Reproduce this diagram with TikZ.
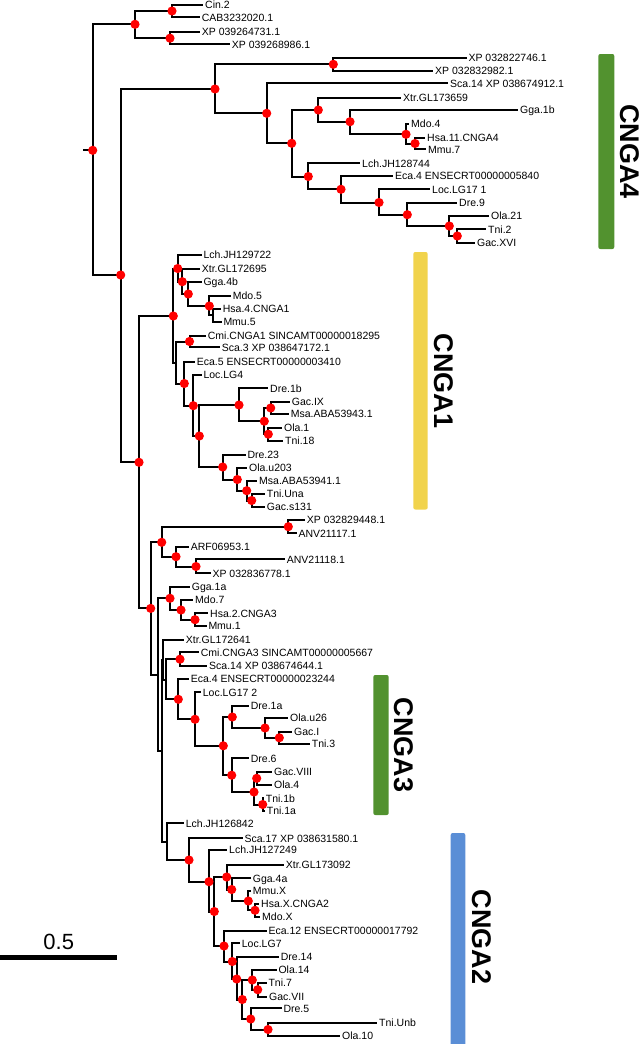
\documentclass[tikz,border=0pt]{standalone}
\usepackage{fontspec}
\setmainfont{Liberation Sans}
\definecolor{cgreen}{HTML}{52922F}
\definecolor{cyellow}{HTML}{F1D34C}
\definecolor{cblue}{HTML}{5A8ED6}
\newcommand\tlf[4]{\node[leaf] (#1) at (#2-1.8,#3) {#4};}
\begin{document}
\begin{tikzpicture}[x=1pt,y=-1pt,
  edge/.style={line width=2pt, line join=miter},
  leaf/.style={anchor=west, inner xsep=1.8pt, inner ysep=0pt, text height=7.5pt, text depth=0pt, font=\fontsize{10.5}{12}\selectfont},
  clade/.style={font=\fontsize{27}{27}\selectfont\bfseries, rotate=-90, inner sep=0pt},
  bar/.style={rounded corners=2pt}]
\useasboundingbox (0,0) rectangle (641,1044);
% internal nodes
\coordinate (rs) at (83.3,150.3);
\coordinate (r0) at (92.7,150.3);
\coordinate (a) at (135,24.3);
\coordinate (a1) at (172,11);
\coordinate (a2) at (170,38.2);
\coordinate (b) at (120.7,275);
\coordinate (c4) at (215,89);
\coordinate (c4a) at (333.3,64.3);
\coordinate (c4b) at (266.7,113.3);
\coordinate (c4c) at (291.7,143.3);
\coordinate (c4d) at (318.3,110);
\coordinate (c4e) at (350,121.7);
\coordinate (c4f) at (406,134.3);
\coordinate (c4g) at (415,143.5);
\coordinate (c4h) at (308.3,176.5);
\coordinate (c4i) at (341,189.3);
\coordinate (c4j) at (379,202.5);
\coordinate (c4k) at (407.3,214.7);
\coordinate (c4l) at (449.3,226);
\coordinate (c4m) at (457.3,236);
\coordinate (d) at (139,462.3);
\coordinate (c1) at (173.3,316);
\coordinate (c1b) at (177.7,268.5);
\coordinate (c1c) at (182.3,281.7);
\coordinate (c1d) at (188.3,294);
\coordinate (c1e) at (209.3,306);
\coordinate (c1f) at (213,315.3);
\coordinate (c1g) at (176.3,363);
\coordinate (c1h) at (189.5,341.5);
\coordinate (c1i) at (184.3,383.5);
\coordinate (c1j) at (193.3,405.7);
\coordinate (c1k) at (199.3,436);
\coordinate (c1l) at (239,405);
\coordinate (c1m) at (264.3,421.2);
\coordinate (c1n) at (270.7,408);
\coordinate (c1o) at (268.3,434.2);
\coordinate (c1p) at (222.7,467);
\coordinate (c1q) at (237.3,479.5);
\coordinate (c1r) at (246.7,490.7);
\coordinate (c1s) at (251.7,500.5);
\coordinate (z) at (150.7,608.4);
\coordinate (u) at (161.7,542.3);
\coordinate (v) at (288.3,526.7);
\coordinate (w) at (176,556.7);
\coordinate (x) at (196,566.5);
\coordinate (z2) at (158.3,674.5);
\coordinate (aa) at (170,598.3);
\coordinate (ab) at (181,610);
\coordinate (ac) at (195,619.7);
\coordinate (y1) at (161.7,750.8);
\coordinate (y2) at (163.3,659.8);
\coordinate (y3) at (165.7,679.5);
\coordinate (ad) at (180,659.2);
\coordinate (ae) at (178.3,699.3);
\coordinate (af) at (195,719.3);
\coordinate (ag) at (223.3,745.8);
\coordinate (ah) at (232.3,717);
\coordinate (aj) at (265,728);
\coordinate (ak) at (279.3,737.8);
\coordinate (ai) at (231.7,775.2);
\coordinate (al) at (254,792);
\coordinate (am) at (256.7,778.3);
\coordinate (an) at (262.7,804.5);
\coordinate (yl) at (166.7,841.7);
\coordinate (ba) at (189,860);
\coordinate (bb) at (209,881.7);
\coordinate (bc) at (214.3,911.5);
\coordinate (bd) at (226.7,877);
\coordinate (bg) at (231.7,889.5);
\coordinate (bh) at (248.3,901);
\coordinate (bi) at (255,910.3);
\coordinate (be1) at (224,946);
\coordinate (be2) at (232.3,961.5);
\coordinate (be3) at (236.7,979);
\coordinate (be4) at (242.3,999.5);
\coordinate (bo) at (252.3,980);
\coordinate (bt) at (257.7,989.7);
\coordinate (be5) at (250.7,1019);
\coordinate (be6) at (268,1029.5);
% leaves
\tlf{cin}{205}{4.7}{Cin.2}
\tlf{cab}{201.7}{17.3}{CAB3232020.1}
\tlf{xp1}{201.7}{32}{XP 039264731.1}
\tlf{xp2}{231.7}{44.3}{XP 039268986.1}
\tlf{xp3}{468.3}{57.7}{XP 032822746.1}
\tlf{xp4}{435}{71}{XP 032832982.1}
\tlf{scaA}{450}{83.3}{Sca.14 XP 038674912.1}
\tlf{xtrA}{403}{97.7}{Xtr.GL173659}
\tlf{ggaA}{520}{110}{Gga.1b}
\tlf{mdoA}{411}{124}{Mdo.4}
\tlf{hsaA}{427}{137.7}{Hsa.11.CNGA4}
\tlf{mmuA}{428}{149.3}{Mmu.7}
\tlf{lchA}{362}{163.3}{Lch.JH128744}
\tlf{ecaA}{395}{176}{Eca.4 ENSECRT00000005840}
\tlf{locA}{432}{189.3}{Loc.LG17 1}
\tlf{dreA}{459}{202.7}{Dre.9}
\tlf{olaA}{491}{216}{Ola.21}
\tlf{tniA}{488}{229.3}{Tni.2}
\tlf{gacA}{477}{242.5}{Gac.XVI}
\tlf{lchB}{203.3}{255}{Lch.JH129722}
\tlf{xtrB}{201.7}{269}{Xtr.GL172695}
\tlf{ggaB}{203.3}{281.7}{Gga.4b}
\tlf{mdoB}{232.7}{295.7}{Mdo.5}
\tlf{hsaB}{222.7}{309}{Hsa.4.CNGA1}
\tlf{mmuB}{223.3}{321.7}{Mmu.5}
\tlf{cmiB}{207.7}{335.7}{Cmi.CNGA1 SINCAMT00000018295}
\tlf{scaB}{221.7}{347.3}{Sca.3 XP 038647172.1}
\tlf{ecaB}{196.7}{362}{Eca.5 ENSECRT00000003410}
\tlf{locB}{203.3}{375}{Loc.LG4}
\tlf{dreB}{270}{388.3}{Dre.1b}
\tlf{gacB}{291.7}{401.7}{Gac.IX}
\tlf{msaB}{290.7}{414}{Msa.ABA53943.1}
\tlf{olaB}{284}{427.7}{Ola.1}
\tlf{tniB}{285}{440.7}{Tni.18}
\tlf{dreC}{247.3}{455}{Dre.23}
\tlf{olaC}{249}{467.7}{Ola.u203}
\tlf{msaC}{259}{481}{Msa.ABA53941.1}
\tlf{tniC}{266.7}{494}{Tni.Una}
\tlf{gacC}{266.7}{506.7}{Gac.s131}
\tlf{xp5}{306.7}{520}{XP 032829448.1}
\tlf{anv1}{298.3}{533.3}{ANV21117.1}
\tlf{arf}{190.7}{546.7}{ARF06953.1}
\tlf{anv2}{286.7}{559.3}{ANV21118.1}
\tlf{xp6}{212.3}{573.3}{XP 032836778.1}
\tlf{ggaD}{191.7}{586.7}{Gga.1a}
\tlf{mdoD}{195}{600}{Mdo.7}
\tlf{hsaD}{210}{613.3}{Hsa.2.CNGA3}
\tlf{mmuD}{208.3}{626}{Mmu.1}
\tlf{xtrD}{185.7}{640}{Xtr.GL172641}
\tlf{cmiD}{200.7}{652.3}{Cmi.CNGA3 SINCAMT00000005667}
\tlf{scaD}{209}{666}{Sca.14 XP 038674644.1}
\tlf{ecaD}{190.7}{679}{Eca.4 ENSECRT00000023244}
\tlf{locD}{202.7}{692.3}{Loc.LG17 2}
\tlf{dreD}{250.7}{706}{Dre.1a}
\tlf{olaD}{290}{717.7}{Ola.u26}
\tlf{gacD}{294}{731.7}{Gac.I}
\tlf{tniD}{311.7}{744}{Tni.3}
\tlf{dreE}{250.7}{758.3}{Dre.6}
\tlf{gacE}{274}{771.7}{Gac.VIII}
\tlf{olaE}{274}{785}{Ola.4}
\tlf{tniE}{265.7}{798.3}{Tni.1b}
\tlf{tniF}{266.7}{810.7}{Tni.1a}
\tlf{lchG}{185.7}{823.3}{Lch.JH126842}
\tlf{scaG}{244.3}{838.3}{Sca.17 XP 038631580.1}
\tlf{lchH}{229}{850}{Lch.JH127249}
\tlf{xtrG}{285.7}{865}{Xtr.GL173092}
\tlf{ggaG}{252.7}{878.3}{Gga.4a}
\tlf{mmuG}{252.7}{890.7}{Mmu.X}
\tlf{hsaG}{261}{903.5}{Hsa.X.CNGA2}
\tlf{mdoG}{262}{916.7}{Mdo.X}
\tlf{ecaG}{268.3}{931}{Eca.12 ENSECRT00000017792}
\tlf{locG}{241.7}{943.3}{Loc.LG7}
\tlf{dreG}{280.7}{956.7}{Dre.14}
\tlf{olaG}{278.3}{970}{Ola.14}
\tlf{tniG}{268.3}{982.7}{Tni.7}
\tlf{gacG}{269}{996.7}{Gac.VII}
\tlf{dreH}{283.3}{1008.3}{Dre.5}
\tlf{tniH}{379}{1023}{Tni.Unb}
\tlf{olaH}{342}{1036}{Ola.10}
% edges
\draw[edge] (rs) -- (r0);
\foreach \p/\c in {r0/a, r0/b, a/a1, a/a2, a1/cin.west, a1/cab.west, a2/xp1.west, a2/xp2.west,
  b/c4, b/d, c4/c4a, c4/c4b, c4a/xp3.west, c4a/xp4.west, c4b/scaA.west, c4b/c4c,
  c4c/c4d, c4c/c4h, c4d/xtrA.west, c4d/c4e, c4e/ggaA.west, c4e/c4f, c4f/mdoA.west, c4f/c4g,
  c4g/hsaA.west, c4g/mmuA.west, c4h/lchA.west, c4h/c4i, c4i/ecaA.west, c4i/c4j,
  c4j/locA.west, c4j/c4k, c4k/dreA.west, c4k/c4l, c4l/olaA.west, c4l/c4m, c4m/tniA.west, c4m/gacA.west,
  d/c1, d/z, c1/c1b, c1/c1g, c1b/lchB.west, c1b/c1c, c1c/xtrB.west, c1c/c1d, c1d/ggaB.west, c1d/c1e,
  c1e/mdoB.west, c1e/c1f, c1f/hsaB.west, c1f/mmuB.west, c1g/c1h, c1g/c1i, c1h/cmiB.west, c1h/scaB.west,
  c1i/ecaB.west, c1i/c1j, c1j/locB.west, c1j/c1k, c1k/c1l, c1k/c1p, c1l/dreB.west, c1l/c1m,
  c1m/c1n, c1m/c1o, c1n/gacB.west, c1n/msaB.west, c1o/olaB.west, c1o/tniB.west,
  c1p/dreC.west, c1p/c1q, c1q/olaC.west, c1q/c1r, c1r/msaC.west, c1r/c1s, c1s/tniC.west, c1s/gacC.west,
  z/u, z/z2, u/v, u/w, v/xp5.west, v/anv1.west, w/arf.west, w/x, x/anv2.west, x/xp6.west,
  z2/aa, z2/y1, aa/ggaD.west, aa/ab, ab/mdoD.west, ab/ac, ac/hsaD.west, ac/mmuD.west,
  y1/y2, y1/yl, y2/xtrD.west, y2/y3, y3/ad, y3/ae, ad/cmiD.west, ad/scaD.west,
  ae/ecaD.west, ae/af, af/locD.west, af/ag, ag/ah, ag/ai, ah/dreD.west, ah/aj,
  aj/olaD.west, aj/ak, ak/gacD.west, ak/tniD.west, ai/dreE.west, ai/al, al/am, al/an,
  am/gacE.west, am/olaE.west, an/tniE.west, an/tniF.west,
  yl/lchG.west, yl/ba, ba/scaG.west, ba/bb, bb/lchH.west, bb/bc, bc/bd, bc/be1,
  bd/xtrG.west, bd/bg, bg/ggaG.west, bg/bh, bh/mmuG.west, bh/bi, bi/hsaG.west, bi/mdoG.west,
  be1/ecaG.west, be1/be2, be2/locG.west, be2/be3, be3/dreG.west, be3/be4, be4/bo, be4/be5,
  bo/olaG.west, bo/bt, bt/tniG.west, bt/gacG.west, be5/dreH.west, be5/be6, be6/tniH.west, be6/olaH.west}
  \draw[edge] (\p) |- (\c);
% support dots
\foreach \n in {r0,a,a1,a2,b,c4,c4a,c4b,c4c,c4d,c4e,c4f,c4g,c4h,c4i,c4j,c4k,c4l,c4m,
  d,c1,c1b,c1c,c1d,c1e,c1h,c1i,c1j,c1k,c1l,c1m,c1n,c1o,c1p,c1q,c1r,c1s,
  z,u,v,w,x,aa,ab,ac,ad,ae,af,ag,ah,aj,ak,ai,al,am,an,
  ba,bb,bc,bd,bg,bh,bi,be1,be2,be3,be4,bo,bt,be5,be6}
  \fill[red] (\n) circle (4.6);
% clade bars
\fill[cgreen, bar] (598.3,54) rectangle (614.3,249);
\node[clade] (lA4) at (630,151.5) {CNGA4};
\fill[cyellow, bar] (413.3,252) rectangle (427.7,509.5);
\node[clade] (lA1) at (444,381) {CNGA1};
\fill[cgreen, bar] (373.3,675) rectangle (388.7,815);
\node[clade] (lA3) at (404,745) {CNGA3};
\fill[cblue, bar] (450.7,833) rectangle (465.3,1050);
\node[clade] (lA2) at (482,937) {CNGA2};
% scale bar
\coordinate (sb1) at (0,957.5);
\coordinate (sb2) at (116.7,957.5);
\draw[line width=5pt] (sb1) -- (sb2);
\node[font=\fontsize{22}{22}\selectfont, inner sep=0pt] (sbl) at (58.7,941.5) {0.5};
\end{tikzpicture}
\end{document}
